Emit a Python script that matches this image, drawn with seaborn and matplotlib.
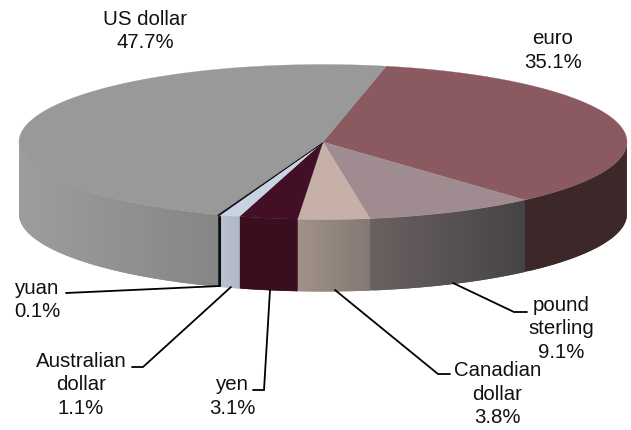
import numpy as np
import matplotlib
matplotlib.use("Agg")
import matplotlib.pyplot as plt
from matplotlib.patches import Polygon
import seaborn as sns

currencies = ["euro", "pound\nsterling", "Canadian\ndollar", "yen", "Australian\ndollar", "yuan", "US dollar"]
shares = [35.1, 9.1, 3.8, 3.1, 1.1, 0.1, 47.7]

top_colors = ["#8a5a60", "#a08c90", "#c6b0a8", "#430f27", "#c8d4e2", "#111111", "#999999"]
side_left = ["#3c2729", "#6a6060", "#a09189", "#3a0e1f", "#b8c3d0", "#111111", "#9d9d9d"]
side_right = ["#3c2729", "#464344", "#837973", "#3a0e1f", "#aeb7c3", "#111111", "#858585"]

sns.set_theme(style="white")
plt.rcParams["font.family"] = ["Liberation Sans", "DejaVu Sans"]

fig, ax = plt.subplots(figsize=(6.31, 4.30), dpi=100)
ax.set_position([0, 0, 1, 1])
ax.set_xlim(0, 631)
ax.set_ylim(430, 0)
ax.axis("off")

CX, CY, RX, RY, DEPTH = 323.0, 142.0, 304.0, 77.5, 72.0
START = 78.0


def hex_rgb(c):
    return np.array(matplotlib.colors.to_rgb(c))


def ell(t):
    t = np.radians(t)
    return CX + RX * np.cos(t), CY - RY * np.sin(t)


# slice boundaries, clockwise from START
bounds = START - np.concatenate([[0], np.cumsum(shares)]) * 3.6

# sides: only the front half (-180..0) is visible
for i, (a0, a1) in enumerate(zip(bounds[:-1], bounds[1:])):
    hi = min(a0, 0)
    lo = max(a1, -180)
    if hi <= lo:
        continue
    edges = np.linspace(lo, hi, 41)
    c0, c1 = hex_rgb(side_left[i]), hex_rgb(side_right[i])
    xa, xb = ell(lo)[0], ell(hi)[0]
    for k in range(40):
        # each band runs under the next one, so no seam shows between them
        ts = np.linspace(edges[k], edges[min(k + 2, 40)], 6)
        xs, ys = ell(ts)
        pts = np.r_[np.c_[xs, ys], np.c_[xs[::-1], ys[::-1] + DEPTH]]
        f = (ell(edges[k])[0] - xa) / max(xb - xa, 1e-6)
        col = c0 + (c1 - c0) * f
        ax.add_patch(Polygon(pts, closed=True, fc=col, ec="none", lw=0, zorder=1 + k * 0.001))

# top faces
for i, (a0, a1) in enumerate(zip(bounds[:-1], bounds[1:])):
    ts = np.linspace(a0, a1, 200)
    xs, ys = ell(ts)
    pts = np.r_[[[CX, CY]], np.c_[xs, ys]]
    lw = 1.2 if shares[i] < 0.5 else 0.2
    ax.add_patch(Polygon(pts, closed=True, fc=top_colors[i], ec=top_colors[i], lw=lw, zorder=3))

# labels
label_xy = [(553, 50.5), (561, 329), (497.5, 394), (232, 396.5), (81, 385), (37, 300), (145, 31)]
for name, val, (x, y) in zip(currencies, shares, label_xy):
    ax.text(x, y, f"{name}\n{val}%", ha="center", va="center", fontsize=14.7,
            color="#111111", linespacing=1.33, zorder=5)

# leader lines
leaders = [
    [(453, 283), (514, 312), (527, 312)],
    [(335, 290), (438, 374), (450, 374)],
    [(270, 290), (264, 390), (253, 390)],
    [(231, 287), (143, 367), (132, 367)],
    [(220, 286), (66, 293)],
]
for line in leaders:
    xy = np.array(line)
    ax.plot(xy[:, 0], xy[:, 1], color="black", lw=1.3, zorder=4, solid_joinstyle="miter")
ax.plot([220, 220], [217, 286], color="#111111", lw=1.5, zorder=4)

fig.savefig("out.png", dpi=100, facecolor="white")
